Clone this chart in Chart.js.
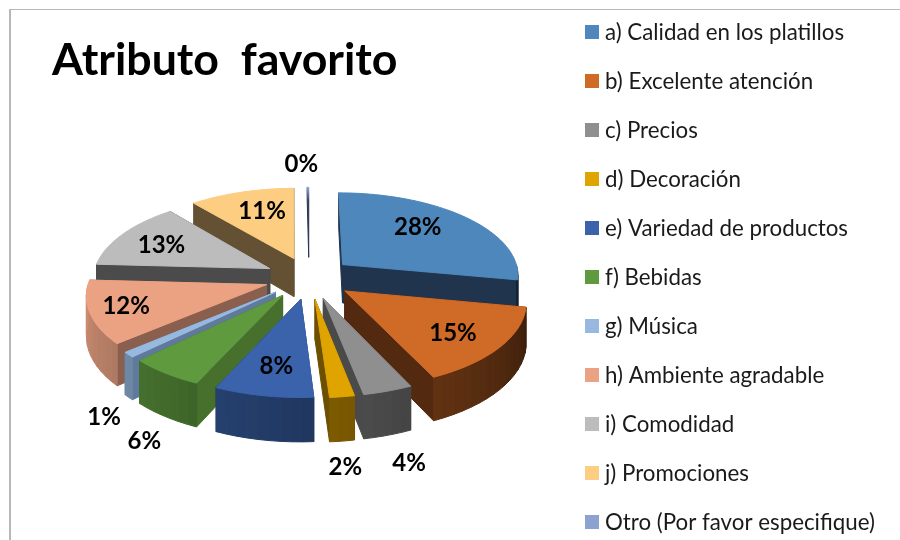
<!DOCTYPE html>
<html lang="es">
<head>
  <meta charset="UTF-8" />
  <title>Atributo favorito</title>
  <script src="https://cdn.jsdelivr.net/npm/chart.js"></script>
  <style>
    html, body {
      margin: 0;
      width: 900px;
      height: 540px;
      overflow: hidden;
      background: #fff;
    }

    .frame {
      position: absolute;
      left: 9px;
      top: 9px;
      width: 900px;
      height: 540px;
      border-left: 2px solid #b8b8b8;
      border-top: 1px solid #b8b8b8;
    }

    canvas {
      position: absolute;
      left: 0;
      top: 0;
    }
  </style>
</head>
<body>
  <div class="frame"></div>
  <canvas id="pie" width="900" height="540"></canvas>

  <script>
    const categories = [
      "a) Calidad en los platillos", "b) Excelente atención", "c) Precios",
      "d) Decoración", "e) Variedad de productos", "f) Bebidas", "g) Música",
      "h) Ambiente agradable", "i) Comodidad", "j) Promociones",
      "Otro (Por favor especifique)"
    ];
    const values = [28, 15, 4, 2, 8, 6, 1, 12, 13, 11, 0.2];

    const topColors = ["#4e87bb", "#cf6a27", "#8f8f8f", "#e0a400", "#3a63ac", "#5f9a3f",
      "#97b9e0", "#eba283", "#bcbcbc", "#fdcd82", "#8ea2d0"];
    const cutColors = ["#20354d", "#532a10", "#4a4a4a", "#6c5000", "#20345f", "#47702c",
      "#5f7a9c", "#8b5f4d", "#4b4b4b", "#645133", "#2a3350"];
    const sliceDepth = [1, 1, 1, 1, 1, 1, 1, 1, 1, 1, 0];

    // where each percentage sits: distance from the pie centre, then a small shift
    const labelRadius = [0.85, 0.95, 1.9, 1.865, 0.95, 1.6, 1.4, 0.95, 0.95, 0.85, 1.8];
    const labelShiftX = [0, 2, -27, -16, 1, 24, -1, -18, -4, 1, -6];
    const labelShiftY = [-8, 4, 3, 2, 2, 38, 53, 2, 1, -6, 7];

    const TEXT_FONT = "Lato, 'Open Sans', sans-serif";

    // tilted view of the pie plane
    const view = { spanX: 177, spanY: 84.2, perspective: 0.112, depth: 39 };

    function project(arc, angle, r, z) {
      const { x, y, startAngle, endAngle, outerRadius } = arc.getProps(["x", "y", "startAngle", "endAngle", "outerRadius"]);
      const mid = (startAngle + endAngle) / 2;
      const off = arc.options.offset;
      const u = (off * Math.cos(mid) + r * Math.cos(angle)) / outerRadius;
      const v = (off * Math.sin(mid) + r * Math.sin(angle)) / outerRadius;
      const s = 1 + view.perspective * v;
      return {
        x: x + view.spanX * u * s,
        y: y + view.spanY * v * s + z * s
      };
    }

    function shade(hex, f) {
      const n = parseInt(hex.slice(1), 16);
      const c = [n >> 16, (n >> 8) & 255, n & 255].map(p => Math.round(p * f));
      return `rgb(${c[0]},${c[1]},${c[2]})`;
    }

    function fillPoly(ctx, pts, color) {
      ctx.beginPath();
      pts.forEach((p, i) => i ? ctx.lineTo(p.x, p.y) : ctx.moveTo(p.x, p.y));
      ctx.closePath();
      ctx.fillStyle = color;
      ctx.strokeStyle = color;
      ctx.lineWidth = 1;
      ctx.lineJoin = "round";
      ctx.stroke();
      ctx.fill();
    }

    function drawSlice(ctx, arc, i) {
      const { startAngle: a0, endAngle: a1, outerRadius: R } = arc.getProps(["startAngle", "endAngle", "outerRadius"]);
      const z = view.depth * sliceDepth[i];
      const color = arc.options.backgroundColor;

      if (z > 0) {
        [a0, a1].forEach(a => {
          fillPoly(ctx, [project(arc, a, 0, 0), project(arc, a, R, 0), project(arc, a, R, z), project(arc, a, 0, z)], cutColors[i]);
        });

        // outer rim, lit from the left; only the part turned towards the viewer
        const steps = Math.max(2, Math.ceil((a1 - a0) / 0.06));
        for (let k = 0; k < steps; k++) {
          const b0 = a0 + (a1 - a0) * k / steps;
          const b1 = a0 + (a1 - a0) * (k + 1) / steps;
          const m = (b0 + b1) / 2;
          if (Math.sin(m) <= 0) continue;
          const deg = m * 180 / Math.PI;
          fillPoly(ctx, [project(arc, b0, R, 0), project(arc, b1, R, 0), project(arc, b1, R, z), project(arc, b0, R, z)],
            shade(color, 0.32 + (deg - 20) * 0.0035));
        }
      }

      const top = [project(arc, a0, 0, 0)];
      const steps = Math.max(2, Math.ceil((a1 - a0) / 0.03));
      for (let k = 0; k <= steps; k++) {
        top.push(project(arc, a0 + (a1 - a0) * k / steps, R, 0));
      }

      // a flat sliver has no walls to show, so it darkens towards the centre instead
      let fill = color;
      if (z === 0) {
        const rim = project(arc, a0, R, 0);
        const tip = project(arc, a0, 0, 0);
        fill = ctx.createLinearGradient(rim.x, rim.y, tip.x, tip.y);
        fill.addColorStop(0, color);
        fill.addColorStop(0.2, cutColors[i]);
      }
      fillPoly(ctx, top, fill);
    }

    const pie3d = {
      id: "pie3d",
      beforeDatasetDraw(chart, args) {
        const ctx = chart.ctx;
        const arcs = args.meta.data.map((arc, i) => ({ arc, i }));
        // back slices first so the front ones paint over them
        arcs.sort((p, q) => {
          const mid = e => (e.arc.startAngle + e.arc.endAngle) / 2;
          return Math.sin(mid(p)) - Math.sin(mid(q));
        });
        ctx.save();
        arcs.forEach(e => drawSlice(ctx, e.arc, e.i));
        ctx.restore();
        return false;
      },
      afterDatasetsDraw(chart) {
        const ctx = chart.ctx;
        const arcs = chart.getDatasetMeta(0).data;
        const total = values.reduce((s, v) => s + v, 0);
        ctx.save();
        ctx.font = "bold 24px " + TEXT_FONT;
        ctx.fillStyle = "#000";
        ctx.textAlign = "center";
        ctx.textBaseline = "middle";
        arcs.forEach((arc, i) => {
          const mid = (arc.startAngle + arc.endAngle) / 2;
          // labelRadius counts from the pie centre, so take the explosion back out
          const r = (labelRadius[i] - arc.options.offset / arc.outerRadius) * arc.outerRadius;
          const p = project(arc, mid, r, 0);
          ctx.fillText(Math.round(values[i] / total * 100) + "%", p.x + labelShiftX[i], p.y + labelShiftY[i]);
        });
        ctx.restore();
      },
      afterDraw(chart) {
        // legend column
        const ctx = chart.ctx;
        ctx.save();
        ctx.font = "22.3px " + TEXT_FONT;
        ctx.textBaseline = "middle";
        categories.forEach((name, i) => {
          const y = 33 + 49 * i;
          ctx.fillStyle = topColors[i];
          ctx.fillRect(585, y - 8, 14, 14);
          ctx.fillStyle = "#1a1a1a";
          ctx.fillText(name, 605, y);
        });
        ctx.restore();
      }
    };

    new Chart(document.getElementById("pie"), {
      type: "pie",
      data: {
        labels: categories,
        datasets: [{
          data: values,
          backgroundColor: topColors,
          borderWidth: 0,
          offset: 43,
          hoverOffset: 0
        }]
      },
      options: {
        responsive: false,
        animation: false,
        layout: { padding: { left: 52, right: 334, top: 0, bottom: 69 } },
        plugins: {
          legend: { display: false },
          tooltip: { enabled: false },
          title: {
            display: true,
            text: "Atributo  favorito",
            align: "start",
            color: "#000",
            font: { family: TEXT_FONT, size: 44.7, weight: "bold", lineHeight: 1 },
            padding: { top: 38, bottom: 2 }
          }
        }
      },
      plugins: [pie3d]
    });
  </script>
</body>
</html>
